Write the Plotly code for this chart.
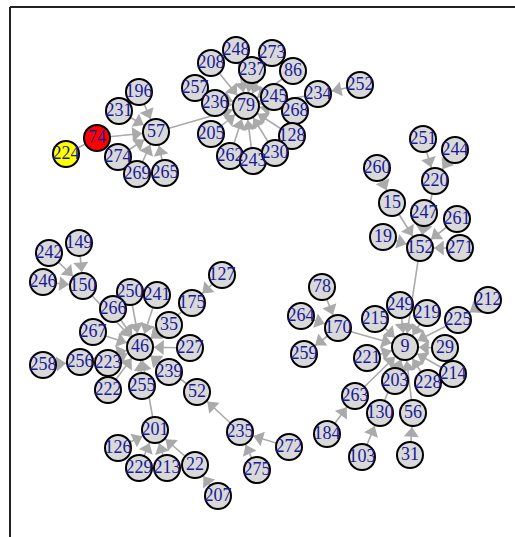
import math
import plotly.graph_objects as go

# ---- data: node labels and layout positions (pixel-space layout) ----
node_ids = ["224", "74", "231", "196", "57", "274", "269", "265", "79", "208", "248", "237",
            "273", "86", "257", "236", "245", "268", "234", "252", "205", "128", "262", "243", "230",
            "149", "242", "246", "150", "250", "241", "266", "175", "127", "35", "267", "46", "227",
            "258", "256", "223", "239", "222", "255", "52", "201", "235", "272", "275", "126", "229",
            "213", "22", "207",
            "251", "244", "260", "220", "15", "247", "261", "19", "152", "271", "78", "249", "219",
            "212", "264", "215", "170", "225", "9", "29", "259", "221", "214", "203", "228", "263",
            "130", "56", "184", "103", "31"]
node_x = [66, 97, 119, 139, 156, 118, 137, 165, 246, 211, 236, 252,
          272, 293, 195, 215, 274, 295, 318, 360, 211, 292, 230, 253, 275,
          79, 49, 43, 83, 130, 157, 113, 192, 222, 169, 93, 140, 190,
          43, 80, 108, 169, 108, 142, 197, 155, 240, 289, 257, 118, 139,
          167, 195, 218,
          423, 455, 377, 435, 392, 424, 457, 383, 420, 460, 322, 400, 427,
          488, 301, 375, 338, 458, 405, 445, 304, 367, 453, 395, 428, 355,
          380, 413, 327, 362, 410]
node_y = [154, 138, 111, 92, 132, 157, 174, 173, 106, 63, 50, 70,
          53, 71, 88, 103, 97, 111, 94, 85, 134, 136, 156, 161, 153,
          243, 253, 282, 286, 292, 295, 309, 303, 275, 325, 332, 347, 348,
          365, 362, 363, 372, 390, 386, 392, 430, 432, 447, 470, 448, 468,
          468, 465, 496,
          139, 150, 168, 181, 203, 213, 219, 237, 248, 248, 287, 305, 313,
          300, 316, 319, 328, 320, 347, 348, 354, 358, 374, 381, 383, 396,
          413, 413, 434, 457, 455]

# directed edges (source -> target)
edge_src = ["74", "231", "196", "274", "269", "265", "57", "208", "248", "237", "273", "86",
            "257", "236", "245", "268", "234", "205", "128", "262", "243", "230", "252",
            "149", "242", "246", "150", "250", "241", "266", "267", "35", "227", "175", "127",
            "256", "258", "223", "222", "255", "239", "52", "235", "272", "275", "201", "126",
            "229", "213", "22", "207",
            "251", "244", "220", "260", "15", "19", "247", "261", "271", "152", "78", "264",
            "170", "170", "212", "225", "249", "219", "215", "29", "221", "214", "203", "228",
            "263", "130", "56", "184", "103", "31"]
edge_dst = ["57", "57", "57", "57", "57", "57", "79", "79", "79", "79", "79", "79",
            "79", "79", "79", "79", "79", "79", "79", "79", "79", "79", "234",
            "150", "150", "150", "46", "46", "46", "46", "46", "46", "46", "46", "175",
            "46", "256", "46", "46", "46", "46", "46", "52", "235", "235", "46", "201",
            "201", "201", "201", "22",
            "220", "220", "152", "15", "152", "152", "152", "152", "152", "9", "170", "170",
            "259", "9", "225", "9", "9", "9", "9", "9", "9", "9", "9", "9",
            "9", "9", "9", "263", "130", "56"]
# undirected links (no arrowhead)
link_a = ["224"]
link_b = ["74"]

# highlighted nodes
highlight = {"224": "#FFFF00", "74": "#FF0000"}

# ---- styling ----
W, H = 515, 537
NODE_SIZE = 26
NODE_R = 14.0
ARROW_SIZE = 13
EDGE_COLOR = "#AAAAAA"
LABEL_COLOR = "#1a1a96"

pos = {n: (x, y) for n, x, y in zip(node_ids, node_x, node_y)}

ex, ey = [], []
for s, t in list(zip(edge_src, edge_dst)) + list(zip(link_a, link_b)):
    x0, y0 = pos[s]
    x1, y1 = pos[t]
    ex += [x0, x1, None]
    ey += [y0, y1, None]

ax_, ay_, ang = [], [], []
for s, t in zip(edge_src, edge_dst):
    x0, y0 = pos[s]
    x1, y1 = pos[t]
    dx, dy = x1 - x0, y1 - y0
    L = math.hypot(dx, dy)
    ux, uy = dx / L, dy / L
    off = NODE_R + ARROW_SIZE / 2.0
    ax_.append(x1 - ux * off)
    ay_.append(y1 - uy * off)
    ang.append(math.degrees(math.atan2(dx, -dy)))

fig = go.Figure()
fig.add_trace(go.Scatter(x=ex, y=ey, mode="lines",
                         line=dict(color=EDGE_COLOR, width=1.6),
                         hoverinfo="skip", showlegend=False))
fig.add_trace(go.Scatter(x=ax_, y=ay_, mode="markers",
                         marker=dict(symbol="triangle-up", size=ARROW_SIZE, angle=ang,
                                     color=EDGE_COLOR, line=dict(width=0)),
                         hoverinfo="skip", showlegend=False))
fills = [highlight.get(n, "#D9D9D9") for n in node_ids]
fig.add_trace(go.Scatter(x=node_x, y=node_y, mode="markers+text", text=node_ids,
                         textposition="middle center",
                         textfont=dict(family="Liberation Serif", size=18, color=LABEL_COLOR),
                         marker=dict(size=NODE_SIZE, color=fills,
                                     line=dict(color="#000000", width=2)),
                         hoverinfo="text", showlegend=False))

fig.update_layout(
    width=W, height=H,
    margin=dict(l=0, r=0, t=0, b=0),
    paper_bgcolor="white", plot_bgcolor="white",
    xaxis=dict(range=[0, W], visible=False, fixedrange=True),
    yaxis=dict(range=[H, 0], visible=False, fixedrange=True),
    shapes=[
        dict(type="line", xref="paper", yref="paper", x0=10 / W, x1=1, y0=1 - 7 / H, y1=1 - 7 / H,
             line=dict(color="#222222", width=2)),
        dict(type="line", xref="paper", yref="paper", x0=10 / W, x1=10 / W, y0=0, y1=1 - 7 / H,
             line=dict(color="#222222", width=2)),
    ],
)

fig.write_html("out.html", config={"displayModeBar": False},
               post_script="document.body.style.margin='0px';")
